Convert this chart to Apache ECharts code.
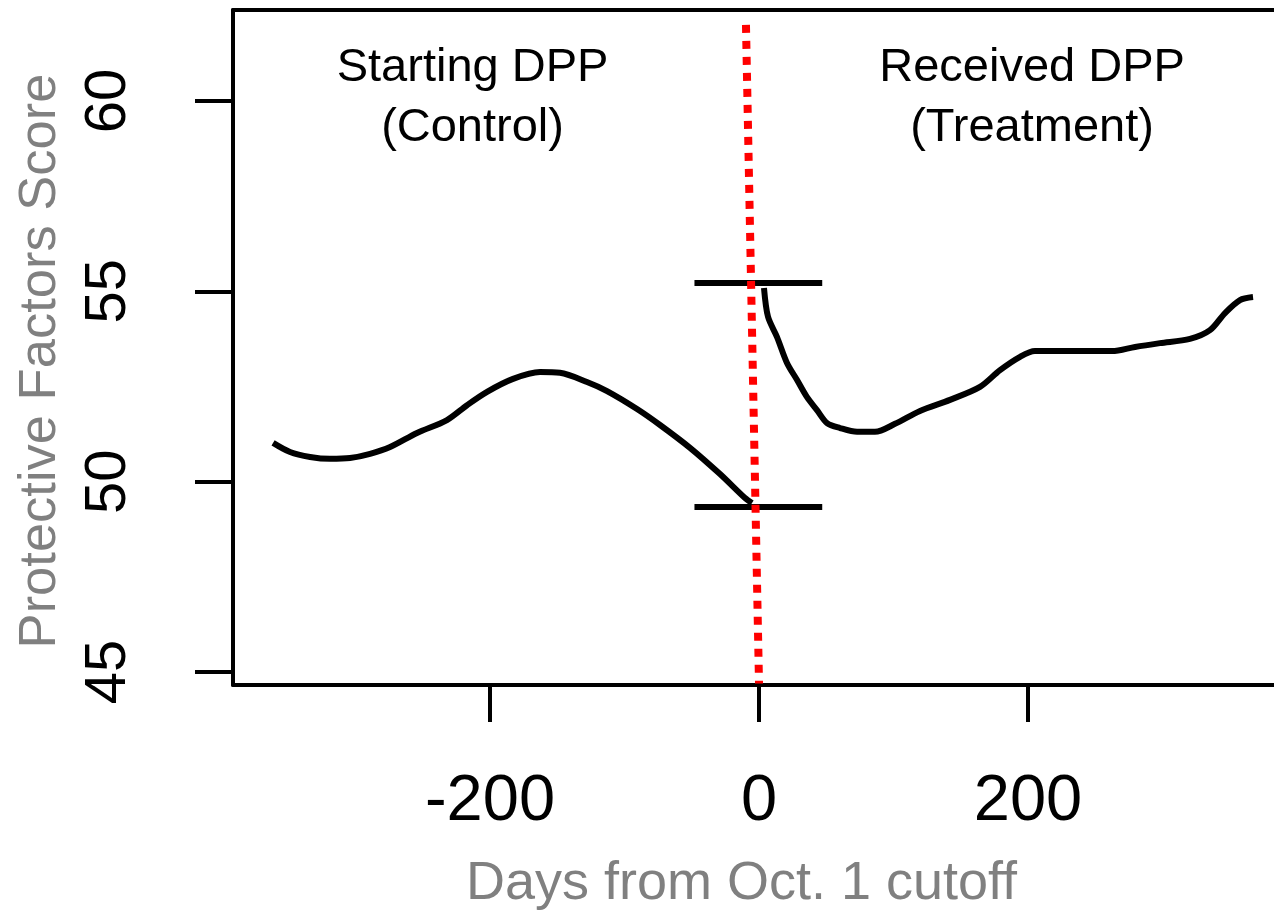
<!DOCTYPE html>
<html>
<head>
<meta charset="utf-8">
<script src="https://cdn.jsdelivr.net/npm/echarts@6/dist/echarts.min.js"></script>
<style>
  html, body { margin: 0; padding: 0; background: #fff; }
  #main { width: 1274px; height: 911px; }
</style>
</head>
<body>
<div id="main"></div>
<script>
// smoothed score before the cutoff (control)
const leftDays = [-361.3, -348.7, -333.8, -319.0, -304.1, -289.2, -274.3, -254.3, -232.0, -217.1, -202.2,
  -182.9, -162.8, -148.0, -127.9, -113.0, -90.7, -73.6, -51.3, -29.0, -10.4, -5.2];
const leftScore = [51.02, 50.78, 50.65, 50.60, 50.62, 50.73, 50.91, 51.28, 51.62, 52.01, 52.36,
  52.70, 52.88, 52.86, 52.62, 52.38, 51.91, 51.49, 50.89, 50.20, 49.57, 49.44];

// smoothed score after the cutoff (treatment)
const rightDays = [3.7, 6.7, 13.4, 20.8, 28.3, 35.7, 43.1, 50.6, 60.2, 72.9, 86.2, 101.1, 119.7, 142.0,
  164.3, 179.2, 194.1, 205.2, 262.5, 279.6, 298.1, 320.4, 335.3, 346.5, 357.6, 367.3];
const rightScore = [55.09, 54.33, 53.80, 53.12, 52.67, 52.22, 51.88, 51.54, 51.41, 51.31, 51.31, 51.52,
  51.86, 52.15, 52.49, 52.93, 53.28, 53.43, 53.43, 53.54, 53.64, 53.75, 53.98, 54.43, 54.77, 54.85];

// jump markers at the cutoff
const barDays = [-48, 47];
const barScore = [55.22, 49.34];

// dotted cutoff line
const cutDays = [-9.7, 0];
const cutScore = [62.0, 44.7];

const xTicks = [-200, 0, 200];
const yTicks = [45, 50, 55, 60];

const groupLabels = ['Starting DPP\n(Control)', 'Received DPP\n(Treatment)'];
const groupDays = [-213, 203];
const groupScore = [60.08, 60.08];

const zip = (a, b) => a.map((v, i) => [v, b[i]]);
const FONT = '"Liberation Sans", Arial, sans-serif';

const chart = echarts.init(document.getElementById('main'), null, { renderer: 'canvas' });

chart.setOption({
  animation: false,
  backgroundColor: '#fff',
  grid: { left: 233, right: 0, top: 10, bottom: 226, containLabel: false, outerBoundsMode: 'none' },
  xAxis: [
    {
      type: 'value',
      min: -391.1,
      max: 382.9,
      position: 'bottom',
      splitLine: { show: false },
      axisLine: { show: true, onZero: false, lineStyle: { color: '#000', width: 4 } },
      axisTick: { show: true, length: 37, lineStyle: { color: '#000', width: 4 }, customValues: xTicks },
      axisLabel: { show: true, customValues: xTicks, margin: 85, fontSize: 65, fontFamily: FONT, color: '#000' },
      name: 'Days from Oct. 1 cutoff',
      nameLocation: 'middle',
      nameGap: 172,
      nameTextStyle: { fontSize: 54, fontFamily: FONT, color: '#808080', padding: [0, 24, 0, 0] }
    },
    {
      type: 'value',
      min: -391.1,
      max: 382.9,
      position: 'top',
      splitLine: { show: false },
      axisLine: { show: true, onZero: false, lineStyle: { color: '#000', width: 4 } },
      axisTick: { show: false },
      axisLabel: { show: false }
    }
  ],
  yAxis: {
    type: 'value',
    min: 44.66,
    max: 62.39,
    splitLine: { show: false },
    axisLine: { show: true, onZero: false, lineStyle: { color: '#000', width: 4 } },
    axisTick: { show: true, length: 38, lineStyle: { color: '#000', width: 4 }, customValues: yTicks },
    axisLabel: { show: true, customValues: yTicks, rotate: 90, margin: 95, fontSize: 58, fontFamily: FONT, color: '#000' },
    name: 'Protective Factors Score',
    nameLocation: 'middle',
    nameGap: 166,
    nameTextStyle: { fontSize: 52.5, fontFamily: FONT, color: '#808080', padding: [0, 27, 0, 0] }
  },
  series: [
    {
      name: 'control',
      type: 'line',
      data: zip(leftDays, leftScore),
      showSymbol: false,
      smooth: 0.3,
      lineStyle: { color: '#000', width: 6 },
      silent: true,
      markPoint: {
        symbol: 'circle',
        symbolSize: 0,
        silent: true,
        label: {
          show: true, position: 'inside', color: '#000', fontSize: 47, lineHeight: 60,
          fontFamily: FONT, align: 'center', formatter: p => p.name
        },
        data: groupLabels.map((t, i) => ({ name: t, coord: [groupDays[i], groupScore[i]] }))
      }
    },
    {
      name: 'treatment',
      type: 'line',
      data: zip(rightDays, rightScore),
      showSymbol: false,
      smooth: 0.3,
      lineStyle: { color: '#000', width: 6 },
      silent: true
    },
    {
      name: 'bars',
      type: 'line',
      data: [],
      silent: true,
      markLine: {
        symbol: ['none', 'none'],
        silent: true,
        label: { show: false },
        lineStyle: { color: '#000', width: 6, type: 'solid' },
        emphasis: { disabled: true },
        data: barScore.map(s => [{ coord: [barDays[0], s] }, { coord: [barDays[1], s] }])
      }
    },
    {
      name: 'cutoff',
      type: 'line',
      data: [],
      silent: true,
      z: 5,
      markLine: {
        symbol: ['none', 'none'],
        silent: true,
        label: { show: false },
        lineStyle: { color: '#ff0000', width: 8, type: [8, 8] },
        emphasis: { disabled: true },
        data: [[{ coord: [cutDays[0], cutScore[0]] }, { coord: [cutDays[1], cutScore[1]] }]]
      }
    }
  ]
});
</script>
</body>
</html>
